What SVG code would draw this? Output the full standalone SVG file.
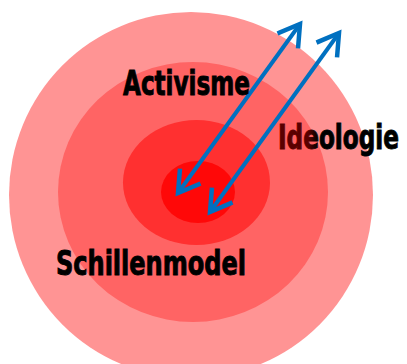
<svg xmlns="http://www.w3.org/2000/svg" width="407" height="364" viewBox="0 0 407 364">
<defs>
<style>
.lbl{font-family:"DejaVu Sans Condensed","DejaVu Sans",sans-serif;font-weight:bold;font-stretch:condensed;font-size:26px;fill:#000;stroke:#000;stroke-width:0.7}
.conn{stroke:#0070C0;stroke-width:4;fill:none}
</style>
<marker id="chev" markerUnits="userSpaceOnUse" viewBox="-30 -20 40 40" refX="0" refY="0" markerWidth="40" markerHeight="40" orient="auto-start-reverse" overflow="visible">
<path d="M-19,-11.5 L0,0 L-19,11.5" fill="none" stroke="#0070C0" stroke-width="4.5" stroke-linecap="square" stroke-linejoin="miter"/>
</marker>
<linearGradient id="ideo" gradientUnits="userSpaceOnUse" x1="0" y1="0" x2="121" y2="0">
<stop offset="0" stop-color="#5A0000"/>
<stop offset="0.25" stop-color="#5A0000"/>
<stop offset="0.33" stop-color="#000"/>
<stop offset="1" stop-color="#000"/>
</linearGradient>
</defs>
<g id="ring-outer"><ellipse cx="191" cy="195" rx="182" ry="183" fill="#FF9494"/></g>
<g id="ring-2"><ellipse cx="193" cy="192" rx="135" ry="130" fill="#FF6464"/></g>
<g id="ring-3"><ellipse cx="196.5" cy="182.5" rx="73.5" ry="62.5" fill="#FF3030"/></g>
<g id="core"><ellipse cx="198" cy="192" rx="37" ry="31" fill="#FF0808"/></g>
<g id="connectors">
<line class="conn" x1="178" y1="193" x2="300" y2="24" marker-start="url(#chev)" marker-end="url(#chev)"/>
<line class="conn" x1="210" y1="212" x2="339" y2="33" marker-start="url(#chev)" marker-end="url(#chev)"/>
</g>
<g id="label-activisme" transform="translate(123,95) scale(1,1.27)"><text class="lbl" x="0" y="0" textLength="127" lengthAdjust="spacingAndGlyphs">Activisme</text></g>
<g id="label-ideologie" transform="translate(278,149) scale(1,1.27)"><text class="lbl" x="0" y="0" textLength="121" lengthAdjust="spacingAndGlyphs" style="fill:url(#ideo);stroke:url(#ideo)">Ideologie</text></g>
<g id="label-schillenmodel" transform="translate(56,275) scale(1,1.27)"><text class="lbl" x="0" y="0" textLength="190" lengthAdjust="spacingAndGlyphs">Schillenmodel</text></g>
</svg>
